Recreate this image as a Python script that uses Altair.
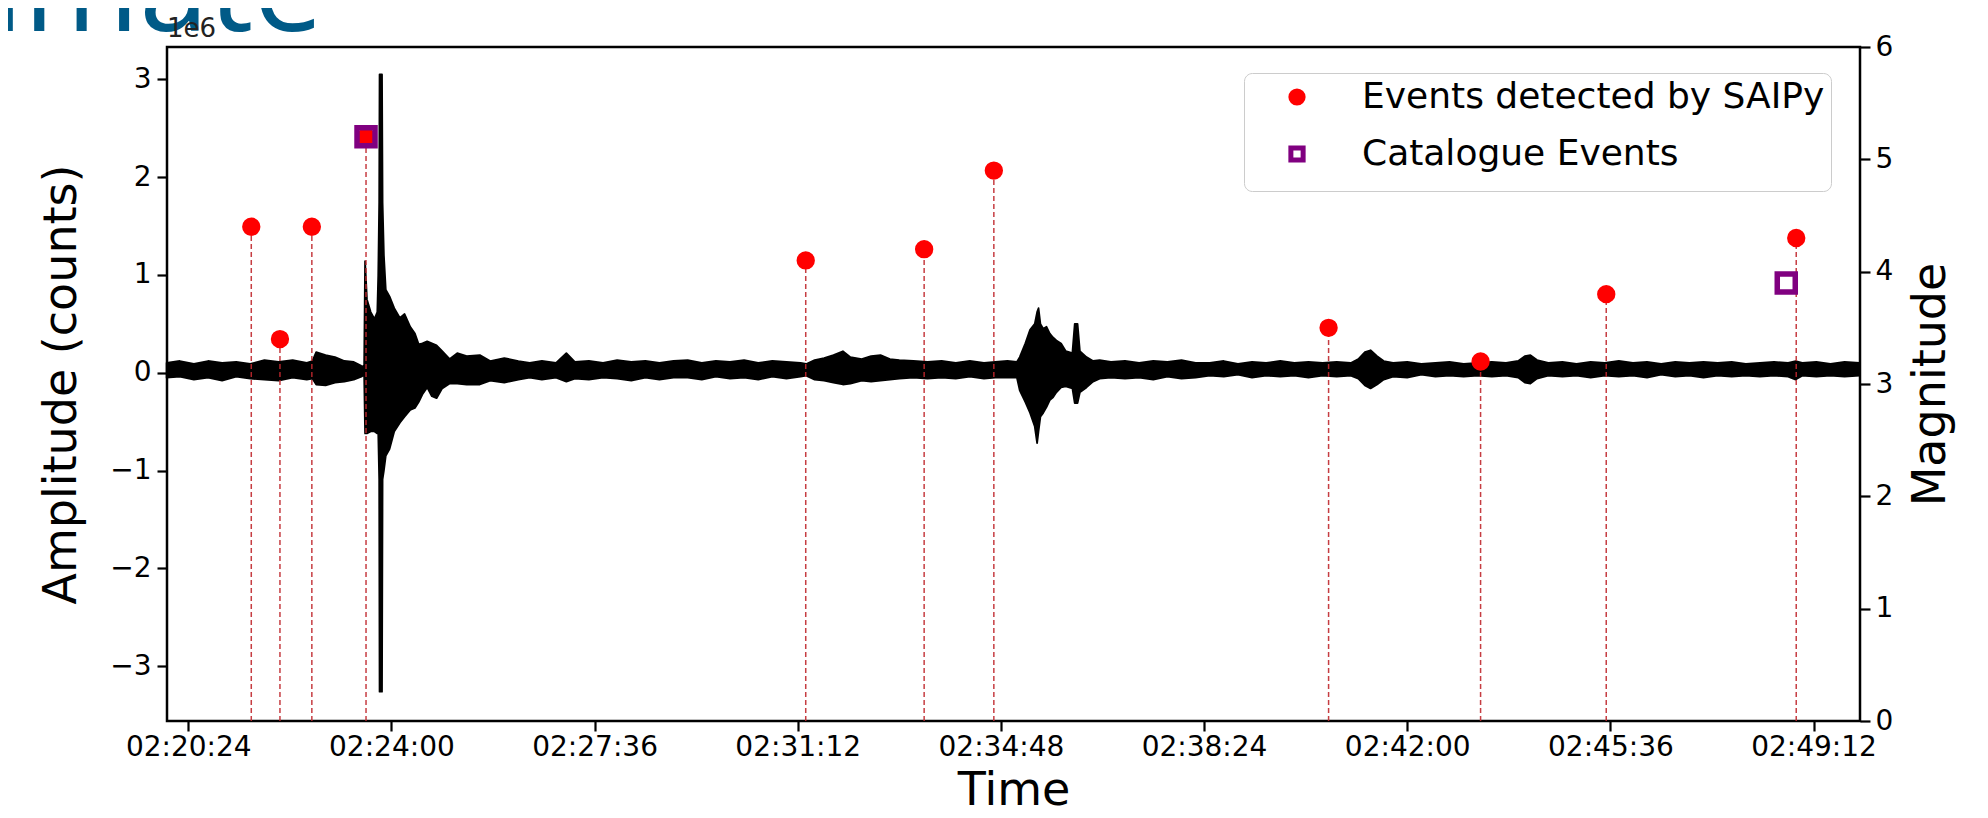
import altair as alt
import pandas as pd

# ---------------- data (time = seconds after midnight, UTC) ----------------
trace_t = [8401, 8415, 8430, 8445, 8460, 8475, 8490, 8505, 8520, 8535, 8550, 8556,
           8560, 8570, 8580, 8590, 8600, 8608, 8611,
           8612, 8614, 8618, 8622, 8625, 8626, 8627, 8627.4, 8630.0, 8630.6, 8632,
           8634, 8638, 8643, 8649, 8654, 8660, 8665, 8669, 8673, 8678, 8683, 8688,
           8694, 8702, 8710, 8720, 8734, 8745, 8760, 8775, 8787,
           8800, 8815, 8826, 8835, 8850, 8865, 8880, 8895, 8910, 8925, 8940,
           8955, 8970, 8985, 9000, 9015, 9030, 9045, 9060, 9075, 9081, 9090, 9100,
           9110, 9120, 9128, 9140, 9150, 9160, 9170, 9180, 9195, 9210, 9225, 9240,
           9255, 9270, 9282, 9295, 9305,
           9308, 9314, 9319, 9324, 9326.5, 9328, 9330, 9333, 9336.5, 9340, 9343.5,
           9347, 9352, 9357, 9364, 9366.5, 9369.5, 9372, 9379, 9386, 9393, 9405,
           9420, 9435, 9450, 9465, 9480, 9495,
           9510, 9525, 9540, 9555, 9570, 9585, 9600, 9615, 9630, 9645, 9660, 9668,
           9675, 9681, 9688, 9695, 9705, 9720, 9735, 9750, 9765, 9780, 9795, 9810,
           9825, 9838, 9845, 9851, 9858, 9870, 9885, 9900, 9915, 9930, 9945, 9960,
           9975, 9990, 10005, 10020, 10035, 10050, 10065, 10080, 10095, 10110, 10125,
           10133, 10140, 10155, 10170, 10185, 10201]
trace_hi = [0.10, 0.12, 0.09, 0.12, 0.10, 0.11, 0.09, 0.13, 0.11, 0.13, 0.10, 0.12,
            0.21, 0.18, 0.16, 0.12, 0.11, 0.07, 0.06,
            1.14, 0.75, 0.62, 0.55, 0.62, 1.00, 1.74, 3.05, 3.05, 1.74, 1.20,
            0.85, 0.78, 0.66, 0.56, 0.60, 0.47, 0.40, 0.29, 0.30, 0.32, 0.30, 0.28,
            0.22, 0.14, 0.20, 0.17, 0.18, 0.12, 0.15, 0.12, 0.10,
            0.12, 0.10, 0.20, 0.11, 0.12, 0.10, 0.13, 0.11, 0.12, 0.10, 0.12,
            0.13, 0.10, 0.12, 0.11, 0.13, 0.10, 0.12, 0.11, 0.10, 0.09, 0.13, 0.15,
            0.18, 0.22, 0.16, 0.14, 0.17, 0.18, 0.14, 0.13, 0.12, 0.11, 0.12, 0.10,
            0.12, 0.10, 0.11, 0.12, 0.11,
            0.16, 0.30, 0.44, 0.50, 0.62, 0.66, 0.50, 0.45, 0.47, 0.40, 0.36,
            0.33, 0.30, 0.22, 0.20, 0.50, 0.50, 0.22, 0.16, 0.12, 0.13, 0.11,
            0.12, 0.10, 0.12, 0.11, 0.13, 0.10,
            0.10, 0.12, 0.09, 0.11, 0.10, 0.12, 0.10, 0.11, 0.10, 0.11, 0.10, 0.14,
            0.21, 0.23, 0.17, 0.12, 0.10, 0.11, 0.09, 0.10, 0.11, 0.09, 0.10, 0.11,
            0.10, 0.12, 0.17, 0.18, 0.13, 0.10, 0.11, 0.09, 0.11, 0.10, 0.12, 0.10,
            0.11, 0.09, 0.11, 0.10, 0.11, 0.10, 0.11, 0.09, 0.10, 0.11, 0.10,
            0.12, 0.10, 0.11, 0.09, 0.11, 0.10]
trace_lo = [-0.05, -0.04, -0.07, -0.05, -0.08, -0.04, -0.06, -0.07, -0.08, -0.05, -0.07, -0.06,
            -0.12, -0.13, -0.10, -0.09, -0.07, -0.04, -0.02,
            -0.62, -0.62, -0.60, -0.60, -0.62, -0.62, -1.09, -3.26, -3.26, -1.09, -1.00,
            -0.85, -0.78, -0.60, -0.51, -0.45, -0.38, -0.36, -0.30, -0.22, -0.15, -0.24, -0.26,
            -0.16, -0.11, -0.11, -0.12, -0.12, -0.08, -0.10, -0.07, -0.05,
            -0.07, -0.05, -0.09, -0.06, -0.07, -0.05, -0.06, -0.08, -0.05, -0.07, -0.05,
            -0.05, -0.07, -0.04, -0.06, -0.05, -0.07, -0.04, -0.06, -0.04, -0.03, -0.07, -0.08,
            -0.10, -0.12, -0.11, -0.08, -0.09, -0.08, -0.07, -0.06, -0.05, -0.06, -0.05, -0.06,
            -0.04, -0.06, -0.05, -0.05, -0.05,
            -0.18, -0.30, -0.41, -0.55, -0.72, -0.60, -0.45, -0.41, -0.35, -0.28, -0.25,
            -0.20, -0.15, -0.14, -0.16, -0.31, -0.31, -0.20, -0.15, -0.09, -0.06, -0.05,
            -0.06, -0.05, -0.07, -0.04, -0.06, -0.05,
            -0.03, -0.04, -0.02, -0.05, -0.03, -0.04, -0.03, -0.05, -0.03, -0.04, -0.03, -0.06,
            -0.13, -0.16, -0.12, -0.07, -0.04, -0.05, -0.02, -0.04, -0.03, -0.04, -0.03, -0.04,
            -0.03, -0.05, -0.10, -0.11, -0.06, -0.03, -0.04, -0.03, -0.05, -0.03, -0.04, -0.03,
            -0.05, -0.02, -0.04, -0.03, -0.05, -0.03, -0.04, -0.03, -0.04, -0.03, -0.04,
            -0.07, -0.03, -0.04, -0.03, -0.04, -0.03]

event_t = [8491, 8521.5, 8555.4, 8613.0, 9080.5, 9206.4, 9280.5, 9636.4, 9798.0, 9931.6, 10133.6]
event_mag = [4.4, 3.4, 4.4, 5.2, 4.1, 4.2, 4.9, 3.5, 3.2, 3.8, 4.3]
cat_t = [8613.0, 10123.0]
cat_mag = [5.2, 3.9]

series_names = ["Events detected by SAIPy", "Catalogue Events"]
x_tick_values = [8424, 8640, 8856, 9072, 9288, 9504, 9720, 9936, 10152]
amp_tick_values = [-3, -2, -1, 0, 1, 2, 3]
mag_tick_values = [0, 1, 2, 3, 4, 5, 6]
heading_text = "imate"
offset_text = "1e6"

# ---------------- tables ----------------
trace_df = pd.DataFrame({"t": trace_t, "hi": trace_hi, "lo": trace_lo})
ev_df = pd.DataFrame({"t": event_t, "mag": event_mag, "zero": 0.0, "series": series_names[0]})
cat_df = pd.DataFrame({"t": cat_t, "mag": cat_mag, "series": series_names[1]})
head_df = pd.DataFrame({"label": [heading_text]})
off_df = pd.DataFrame({"label": [offset_text]})

FONT = "DejaVu Sans"
W, H = 1693, 674

xscale = alt.Scale(domain=[8401.4, 10201.4], nice=False, zero=False)
ampscale = alt.Scale(domain=[-3.56, 3.33], nice=False, zero=False)
magscale = alt.Scale(domain=[0, 6], nice=False)

xaxis = alt.Axis(values=x_tick_values, title="Time",
                 labelExpr="utcFormat(datum.value*1000, '%H:%M:%S')",
                 labelPadding=2, titleX=W / 2, titleY=69, titleBaseline="middle")
ampaxis = alt.Axis(values=amp_tick_values, title="Amplitude (counts)",
                   labelExpr="datum.value < 0 ? '\u2212' + format(-datum.value, 'd') : format(datum.value, 'd')",
                   labelPadding=6, titleAngle=270, titleX=-106, titleY=H / 2,
                   titleBaseline="middle", titleAlign="center")
magaxis = alt.Axis(values=mag_tick_values, title="Magnitude", orient="right",
                   format="d", labelPadding=5, titleAngle=270, titleX=70, titleY=H / 2,
                   titleBaseline="middle", titleAlign="center")

legend = alt.Legend(title=" ", titleOrient="bottom", titleFontSize=8, titlePadding=5,
                    orient="none", legendX=1077, legendY=26,
                    labelFontSize=36, labelFont=FONT, labelColor="black", labelLimit=0,
                    symbolSize=150, symbolStrokeWidth=5, padding=6,
                    rowPadding=21, symbolOffset=29, labelOffset=47,
                    fillColor="white", strokeColor="#cccccc", cornerRadius=8)
shape_scale = alt.Scale(domain=series_names, range=["circle", "square"])
fill_scale = alt.Scale(domain=series_names, range=["#ff0000", "transparent"])
stroke_scale = alt.Scale(domain=series_names, range=["#ff0000", "#800080"])

heading = alt.Chart(head_df).mark_text(
    align="left", baseline="alphabetic", fontSize=125, font="Open Sans",
    color="#005a87").encode(x=alt.value(-175), y=alt.value(-16), text="label:N")

offset_label = alt.Chart(off_df).mark_text(
    align="left", baseline="alphabetic", fontSize=26, font=FONT,
    color="#222222").encode(x=alt.value(0), y=alt.value(-10), text="label:N")

trace = alt.Chart(trace_df).mark_area(
    color="black", stroke="black", strokeWidth=1.8, strokeJoin="round", opacity=1
).encode(
    x=alt.X("t:Q", scale=xscale, axis=xaxis),
    y=alt.Y("hi:Q", scale=ampscale, axis=ampaxis),
    y2="lo:Q",
)

rules = alt.Chart(ev_df).mark_rule(
    color="#c0282d", strokeDash=[5, 3], strokeWidth=1.5, opacity=0.9
).encode(
    x=alt.X("t:Q", scale=xscale),
    y=alt.Y("zero:Q", scale=magscale, axis=magaxis),
    y2="mag:Q",
)

def sym_enc(chart):
    return chart.encode(
        x=alt.X("t:Q", scale=xscale),
        y=alt.Y("mag:Q", scale=magscale),
        shape=alt.Shape("series:N", scale=shape_scale, legend=legend),
        fill=alt.Fill("series:N", scale=fill_scale, legend=legend),
        stroke=alt.Stroke("series:N", scale=stroke_scale, legend=legend),
    )

dots = sym_enc(alt.Chart(ev_df).mark_point(size=165, strokeWidth=5.5, opacity=1))
squares = sym_enc(alt.Chart(cat_df).mark_point(size=324, strokeWidth=5.5, opacity=1))

mag_layer = alt.layer(rules, dots, squares)

chart = alt.layer(heading, offset_label, trace, mag_layer).resolve_scale(y="independent").properties(
    width=W, height=H,
    autosize=alt.AutoSizeParams(type="none"),
    padding={"left": 159, "top": 39, "right": 120, "bottom": 89},
).configure_view(stroke="black", strokeWidth=2.5).configure_axis(
    domain=False, grid=False, tickColor="black", tickSize=10, tickWidth=2.2,
    labelFont=FONT, labelFontSize=28, labelColor="black",
    titleFont=FONT, titleFontSize=46, titleFontWeight="normal", titleColor="black",
)

chart.save("out.html", embed_options={"renderer": "svg", "actions": False})
